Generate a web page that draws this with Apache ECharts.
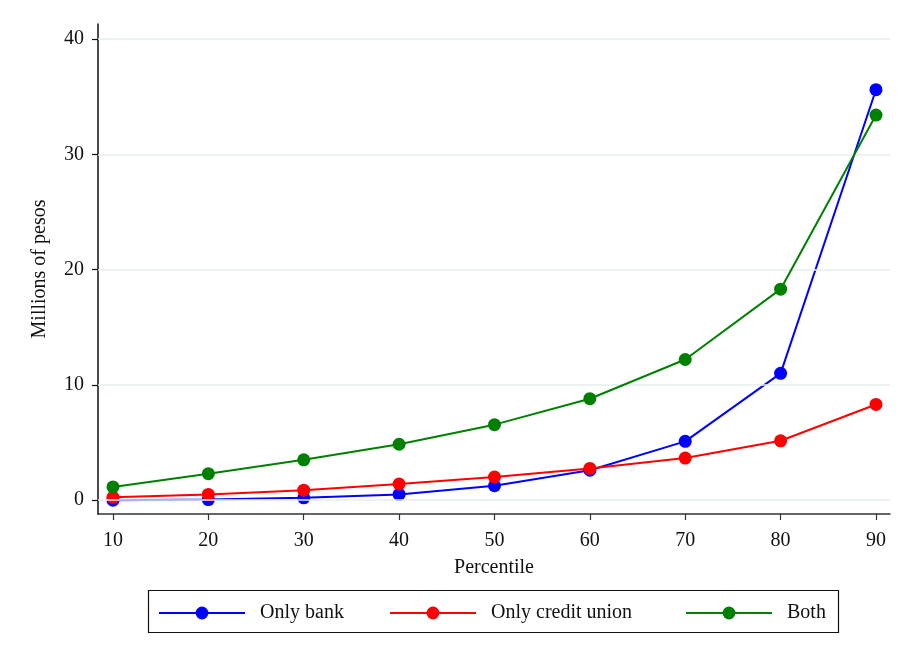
<!DOCTYPE html>
<html>
<head>
<meta charset="utf-8">
<script src="https://cdn.jsdelivr.net/npm/echarts@6/dist/echarts.min.js"></script>
<style>
html,body{margin:0;padding:0;background:#fff;}
#chart{width:915px;height:664px;}
</style>
</head>
<body>
<div id="chart"></div>
<script>
const percentiles = [10, 20, 30, 40, 50, 60, 70, 80, 90];
const onlyBank = [0.0, 0.05, 0.2, 0.5, 1.25, 2.6, 5.1, 11.0, 35.6];
const onlyCreditUnion = [0.25, 0.5, 0.87, 1.4, 2.0, 2.75, 3.65, 5.15, 8.3];
const both = [1.15, 2.3, 3.5, 4.85, 6.55, 8.8, 12.2, 18.3, 33.4];
const yTicks = [0, 10, 20, 30, 40];
const xTicks = [10, 20, 30, 40, 50, 60, 70, 80, 90];
const seriesNames = ['Only bank', 'Only credit union', 'Both'];
const seriesColors = ['#0000ff', '#ff0000', '#008000'];
const seriesData = [onlyBank, onlyCreditUnion, both];

const FONT = 'Liberation Serif';
const chart = echarts.init(document.getElementById('chart'), null, {renderer: 'canvas'});

const lineSeries = seriesNames.map((name, i) => ({
  name: name,
  type: 'line',
  data: percentiles.map((p, j) => [p, seriesData[i][j]]),
  symbol: 'circle',
  symbolSize: 13,
  lineStyle: {color: seriesColors[i], width: 2},
  itemStyle: {color: seriesColors[i]},
  z: 3 + i,
  animation: false
}));

const legendLefts = [158, 389, 685];
const legends = seriesNames.map((name, i) => ({
  data: [name],
  left: legendLefts[i],
  top: 603,
  itemWidth: 86,
  itemHeight: 16,
  padding: 0,
  textStyle: {fontFamily: FONT, fontSize: 20, color: '#111', padding: [4, 0, 0, 10]}
}));

chart.setOption({
  backgroundColor: '#fff',
  animation: false,
  grid: {left: 98, right: 25, top: 24, bottom: 150},
  legend: legends,
  graphic: [{
    type: 'rect',
    shape: {x: 148.5, y: 590.5, width: 690, height: 42},
    style: {fill: 'none', stroke: '#111', lineWidth: 1.2},
    silent: true
  }],
  xAxis: {
    type: 'value',
    min: 8.43,
    max: 91.47,
    name: 'Percentile',
    nameLocation: 'middle',
    nameGap: 44,
    nameTextStyle: {fontFamily: FONT, fontSize: 20, color: '#111'},
    axisLine: {show: true, onZero: false, lineStyle: {color: '#333', width: 1.5}},
    axisTick: {show: true, length: 6, customValues: xTicks, lineStyle: {color: '#333', width: 1.2}},
    axisLabel: {customValues: xTicks, fontFamily: FONT, fontSize: 20, color: '#111', margin: 17},
    splitLine: {show: false}
  },
  yAxis: {
    type: 'value',
    min: -1.2,
    max: 41.3,
    name: 'Millions of pesos',
    nameLocation: 'middle',
    nameGap: 48,
    nameTextStyle: {fontFamily: FONT, fontSize: 20, color: '#111'},
    axisLine: {show: true, onZero: false, lineStyle: {color: '#111', width: 1.5}},
    axisTick: {show: true, length: 6, customValues: yTicks, lineStyle: {color: '#111', width: 1.2}},
    axisLabel: {customValues: yTicks, fontFamily: FONT, fontSize: 20, color: '#111', margin: 14},
    splitLine: {show: false}
  },
  series: [{
    name: 'grid',
    type: 'line',
    data: [],
    z: 1,
    silent: true,
    markLine: {
      silent: true,
      symbol: 'none',
      label: {show: false},
      lineStyle: {color: '#e6eef1', width: 1.5, type: 'solid'},
      data: yTicks.map(v => ({yAxis: v}))
    }
  }].concat(lineSeries)
});
</script>
</body>
</html>
